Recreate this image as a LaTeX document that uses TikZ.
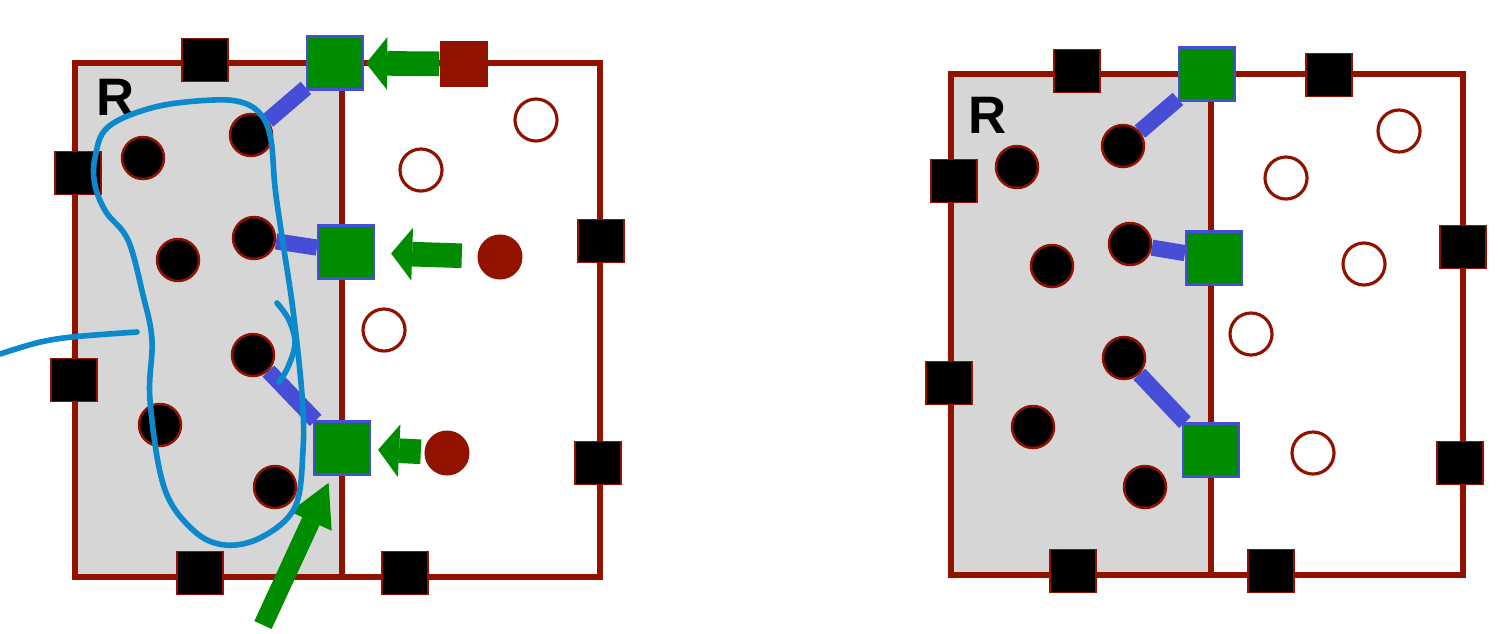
\documentclass[tikz,border=0pt]{standalone}
\usepackage{fontspec}
\setsansfont{Liberation Sans}
\usetikzlibrary{arrows.meta}

\definecolor{rim}{RGB}{146,18,0}
\definecolor{leaf}{RGB}{0,140,0}
\definecolor{wire}{RGB}{70,78,216}
\definecolor{lassoblue}{RGB}{12,136,204}
\definecolor{greyfill}{RGB}{214,214,214}

\begin{document}
\begin{tikzpicture}[x=0.01cm, y=-0.01cm, inner sep=0pt,
    frame/.style={draw=rim, line width=1.6pt},
    link/.style={draw=wire, line width=4.6pt},
    push/.style={draw=leaf, line width=7pt, -{Triangle[length=6pt, width=15pt, line width=0pt]}},
    bigpush/.style={draw=leaf, line width=5.4pt, -{Triangle[length=12pt, width=13pt, line width=0pt]}},
    lasso/.style={draw=lassoblue, line width=1.6pt, line cap=round}]

    \tikzstyle{blk}=[rectangle, fill=black, draw=rim, line width=0.5pt, minimum width=0.46cm, minimum height=0.43cm]
    \tikzstyle{grn}=[rectangle, fill=leaf, draw=wire, line width=0.6pt, minimum width=0.56cm, minimum height=0.53cm]
    \tikzstyle{rsq}=[rectangle, fill=rim, minimum width=0.48cm, minimum height=0.45cm]
    \tikzstyle{fulldot}=[circle, fill=black, draw=rim, line width=0.7pt, minimum size=0.42cm]
    \tikzstyle{opendot}=[circle, fill=white, draw=rim, line width=0.9pt, minimum size=0.42cm]
    \tikzstyle{reddot}=[circle, fill=rim, minimum size=0.45cm]

    \useasboundingbox (0,0) rectangle (1507,633);

    % left panel
    \fill[greyfill] (75,63) rectangle (342,577);
    \draw[frame] (75,63) rectangle (600,577);
    \draw[frame] (342,63) -- (342,577);
    \node[font=\sffamily\bfseries\fontsize{15}{18}\selectfont] (rl) at (116,97) {R};

    \node[blk] (lb1) at (205,60)  {};
    \node[blk] (lb2) at (78,173)  {};
    \node[blk] (lb3) at (74,380)  {};
    \node[blk] (lb4) at (200,573) {};
    \node[blk] (lb5) at (405,573) {};
    \node[blk] (lb6) at (601,241) {};
    \node[blk] (lb7) at (598,463) {};
    \node[rsq] (lrs) at (464,64)  {};

    \node[grn] (lg1) at (335,63)  {};
    \node[grn] (lg2) at (346,252) {};
    \node[grn] (lg3) at (342,448) {};

    \node[fulldot] (lc1) at (143,158) {};
    \node[fulldot] (lc2) at (251,135) {};
    \node[fulldot] (lc3) at (178,260) {};
    \node[fulldot] (lc4) at (254,238) {};
    \node[fulldot] (lc5) at (253,355) {};
    \node[fulldot] (lc6) at (160,425) {};
    \node[fulldot] (lc7) at (275,487) {};

    \node[opendot] (lo1) at (421,170) {};
    \node[opendot] (lo2) at (536,120) {};
    \node[opendot] (lo3) at (384,330) {};

    \node[reddot] (lr1) at (500,257) {};
    \node[reddot] (lr2) at (447,453) {};

    \path (lc2) edge[link] (lg1)
          (lc4) edge[link] (lg2)
          (lc5) edge[link] (lg3);

    \draw[push, shorten >=0.02cm] (lrs) -- (lg1);
    \draw[push, shorten <=0.15cm, shorten >=0.16cm] (lr1) -- (lg2);
    \draw[push, shorten <=0.03cm, shorten >=0.07cm] (lr2) -- (lg3);

    \coordinate (tail) at (263,625);
    \draw[bigpush, shorten >=0.08cm] (tail) -- (lg3.-110);

    % freehand lasso
    \draw[lasso] plot[smooth cycle, tension=0.6] coordinates {(95,158) (95,185) (106,212) (128,240) (143,295) (152,340) (150,400) (164,487) (193,530) (225,545) (262,537) (295,507) (303,450) (302,395) (293,310) (282,237) (275,187) (271,140) (262,116) (244,103) (213,100) (155,107) (108,127)};
    \draw[lasso] plot[smooth, tension=0.6] coordinates {(277,303) (289,320) (295,343) (288,367) (279,382)};
    \draw[lasso] (0,354) .. controls (50,338) .. (137,332);

    % right panel
    \fill[greyfill] (951,74) rectangle (1211,575);
    \draw[frame] (951,74) rectangle (1463,575);
    \draw[frame] (1211,74) -- (1211,575);
    \node[font=\sffamily\bfseries\fontsize{15}{18}\selectfont] (rr) at (988,115) {R};

    \node[blk] (rb1) at (1077,71)  {};
    \node[blk] (rb2) at (1329,75)  {};
    \node[blk] (rb3) at (954,181)  {};
    \node[blk] (rb4) at (949,383)  {};
    \node[blk] (rb5) at (1463,247) {};
    \node[blk] (rb6) at (1460,463) {};
    \node[blk] (rb7) at (1073,571) {};
    \node[blk] (rb8) at (1271,571) {};

    \node[grn] (rg1) at (1207,74)  {};
    \node[grn] (rg2) at (1214,258) {};
    \node[grn] (rg3) at (1211,450) {};

    \node[fulldot] (rc1) at (1017,167) {};
    \node[fulldot] (rc2) at (1123,146) {};
    \node[fulldot] (rc3) at (1052,266) {};
    \node[fulldot] (rc4) at (1130,244) {};
    \node[fulldot] (rc5) at (1124,358) {};
    \node[fulldot] (rc6) at (1033,427) {};
    \node[fulldot] (rc7) at (1145,487) {};

    \node[opendot] (ro1) at (1399,131) {};
    \node[opendot] (ro2) at (1286,178) {};
    \node[opendot] (ro3) at (1364,264) {};
    \node[opendot] (ro4) at (1251,334) {};
    \node[opendot] (ro5) at (1313,453) {};

    \path (rc2) edge[link] (rg1)
          (rc4) edge[link] (rg2)
          (rc5) edge[link] (rg3);
\end{tikzpicture}
\end{document}
